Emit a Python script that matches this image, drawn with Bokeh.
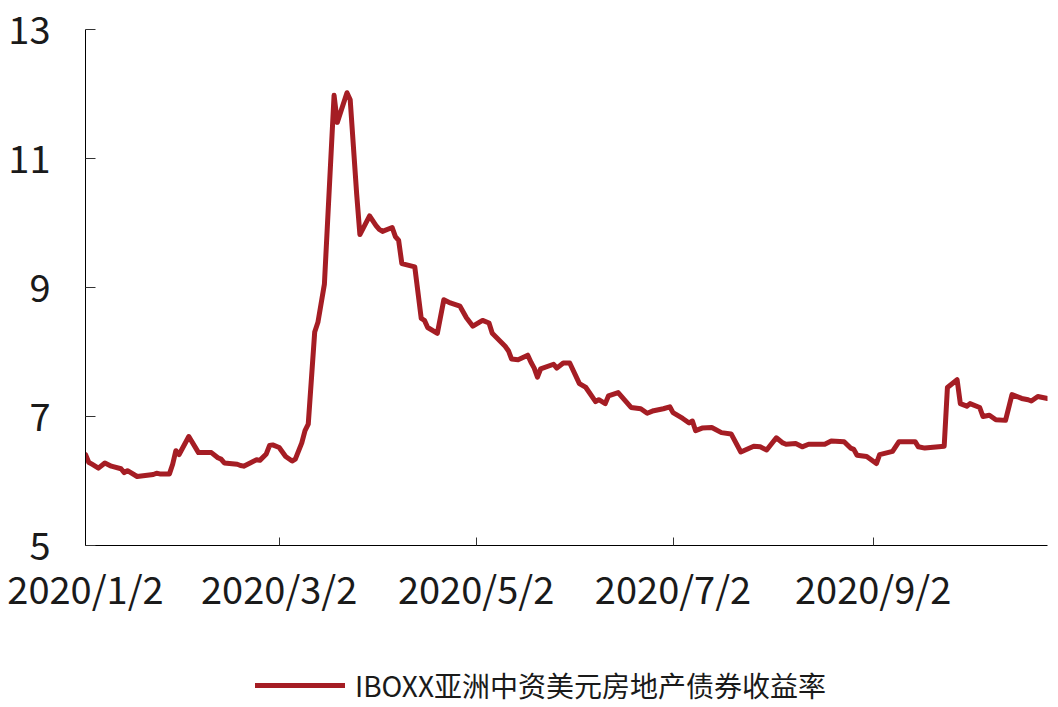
import pandas as pd
from datetime import datetime
from bokeh.plotting import figure
from bokeh.layouts import column
from bokeh.models import Range1d, FixedTicker, Legend, LegendItem, ColumnDataSource
from bokeh.embed import file_html
from bokeh.resources import INLINE

series_name = "IBOXX亚洲中资美元房地产债券收益率"

dates = [
    "2020-01-02", "2020-01-03", "2020-01-04", "2020-01-06", "2020-01-08", "2020-01-10",
    "2020-01-13", "2020-01-14", "2020-01-15", "2020-01-18", "2020-01-23", "2020-01-24",
    "2020-01-25", "2020-01-28", "2020-01-29", "2020-01-30", "2020-01-31", "2020-02-03",
    "2020-02-06", "2020-02-10", "2020-02-12", "2020-02-13", "2020-02-14", "2020-02-18",
    "2020-02-19", "2020-02-20", "2020-02-22", "2020-02-24", "2020-02-25", "2020-02-27",
    "2020-02-28", "2020-02-29", "2020-03-02", "2020-03-03", "2020-03-04", "2020-03-06",
    "2020-03-07", "2020-03-09", "2020-03-10", "2020-03-11", "2020-03-13", "2020-03-14",
    "2020-03-16", "2020-03-19", "2020-03-20", "2020-03-23", "2020-03-24", "2020-03-26",
    "2020-03-27", "2020-03-30", "2020-04-01", "2020-04-02", "2020-04-03", "2020-04-06",
    "2020-04-07", "2020-04-08", "2020-04-09", "2020-04-13", "2020-04-15", "2020-04-16",
    "2020-04-17", "2020-04-20", "2020-04-22", "2020-04-24", "2020-04-27", "2020-04-29",
    "2020-05-01", "2020-05-04", "2020-05-06", "2020-05-07", "2020-05-11", "2020-05-12",
    "2020-05-13", "2020-05-15", "2020-05-18", "2020-05-19", "2020-05-20", "2020-05-21",
    "2020-05-22", "2020-05-26", "2020-05-27", "2020-05-29", "2020-05-31", "2020-06-03",
    "2020-06-05", "2020-06-08", "2020-06-09", "2020-06-11", "2020-06-12", "2020-06-15",
    "2020-06-19", "2020-06-22", "2020-06-24", "2020-06-26", "2020-06-29", "2020-07-01",
    "2020-07-02", "2020-07-05", "2020-07-07", "2020-07-08", "2020-07-09", "2020-07-11",
    "2020-07-14", "2020-07-17", "2020-07-20", "2020-07-23", "2020-07-27", "2020-07-29",
    "2020-07-31", "2020-08-03", "2020-08-05", "2020-08-06", "2020-08-09", "2020-08-11",
    "2020-08-13", "2020-08-18", "2020-08-20", "2020-08-24", "2020-08-26", "2020-08-27",
    "2020-08-28", "2020-08-31", "2020-09-03", "2020-09-04", "2020-09-08", "2020-09-10",
    "2020-09-15", "2020-09-16", "2020-09-18", "2020-09-24", "2020-09-25", "2020-09-28",
    "2020-09-29", "2020-10-01", "2020-10-02", "2020-10-05", "2020-10-06", "2020-10-08",
    "2020-10-10", "2020-10-13", "2020-10-15", "2020-10-18", "2020-10-20", "2020-10-21",
    "2020-10-23", "2020-10-26",
]

yields = [
    6.41, 6.29, 6.26, 6.20, 6.28, 6.23,
    6.19, 6.13, 6.16, 6.07, 6.10, 6.12,
    6.11, 6.11, 6.26, 6.47, 6.41, 6.69,
    6.44, 6.44, 6.36, 6.34, 6.28, 6.26,
    6.24, 6.23, 6.28, 6.33, 6.32, 6.42,
    6.55, 6.56, 6.52, 6.45, 6.38, 6.31,
    6.34, 6.59, 6.78, 6.88, 8.31, 8.46,
    9.05, 11.98, 11.56, 12.02, 11.91, 10.45,
    9.82, 10.11, 9.96, 9.90, 9.87, 9.93,
    9.79, 9.73, 9.37, 9.32, 8.52, 8.49,
    8.38, 8.29, 8.81, 8.76, 8.71, 8.53,
    8.40, 8.49, 8.45, 8.29, 8.09, 8.02,
    7.89, 7.88, 7.95, 7.84, 7.75, 7.61,
    7.74, 7.81, 7.75, 7.83, 7.83, 7.51,
    7.45, 7.23, 7.26, 7.20, 7.32, 7.37,
    7.14, 7.12, 7.05, 7.09, 7.12, 7.15,
    7.06, 6.97, 6.90, 6.93, 6.78, 6.82,
    6.83, 6.75, 6.73, 6.45, 6.54, 6.53,
    6.48, 6.67, 6.59, 6.57, 6.58, 6.53,
    6.57, 6.57, 6.62, 6.61, 6.51, 6.49,
    6.40, 6.38, 6.27, 6.41, 6.46, 6.61,
    6.61, 6.53, 6.51, 6.54, 7.45, 7.57,
    7.20, 7.16, 7.20, 7.14, 7.00, 7.02,
    6.95, 6.94, 7.34, 7.28, 7.26, 7.24,
    7.31, 7.28,
]

x_tick_dates = ["2020-01-02", "2020-03-02", "2020-05-02", "2020-07-02", "2020-09-02"]
x_tick_labels = ["2020/1/2", "2020/3/2", "2020/5/2", "2020/7/2", "2020/9/2"]
y_ticks = [5, 7, 9, 11, 13]

FONT = "Noto Sans CJK SC"
LINE_COLOR = "#A51D24"
LINE_W = 5

source = ColumnDataSource(dict(date=pd.to_datetime(dates), value=yields))

W, H1, H2 = 1050, 625, 80
p = figure(
    width=W, height=H1,
    x_axis_type="datetime",
    x_range=Range1d(datetime(2020, 1, 2), datetime(2020, 10, 26)),
    y_range=Range1d(5, 13),
    output_backend="svg", toolbar_location=None,
    min_border_left=85, min_border_right=3, min_border_top=29, min_border_bottom=H1 - 545,
)
p.outline_line_color = None
p.xgrid.visible = False
p.ygrid.visible = False

r = p.line("date", "value", source=source, line_color=LINE_COLOR, line_width=LINE_W,
           line_join="round", line_cap="round")

# x axis
tick_ms = [pd.Timestamp(d).value / 1e6 for d in x_tick_dates]
xa = p.xaxis[0]
xa.ticker = FixedTicker(ticks=tick_ms)
xa.major_label_overrides = {t: lab for t, lab in zip(tick_ms, x_tick_labels)}
xa.minor_tick_line_color = None
xa.major_tick_in = 8
xa.major_tick_out = 0
xa.major_tick_line_color = "#333333"
xa.axis_line_color = "#000000"
xa.major_label_text_font = FONT
xa.major_label_text_font_size = "38px"
xa.major_label_text_color = "#1a1a1a"
xa.major_label_standoff = 14

# y axis
ya = p.yaxis[0]
ya.ticker = FixedTicker(ticks=y_ticks)
ya.minor_tick_line_color = None
ya.major_tick_in = 10
ya.major_tick_out = 0
ya.major_tick_line_color = "#333333"
ya.axis_line_color = "#000000"
ya.major_label_text_font = FONT
ya.major_label_text_font_size = "38px"
ya.major_label_text_color = "#1a1a1a"
ya.major_label_standoff = 35

# legend strip below the chart (its frame is aligned with the chart frame)
pl = figure(
    width=W, height=H2,
    x_range=Range1d(0, 1), y_range=Range1d(0, 1),
    x_axis_location=None, y_axis_location=None,
    output_backend="svg", toolbar_location=None,
    min_border_left=0, min_border_right=0, min_border_top=0, min_border_bottom=0,
)
pl.outline_line_color = None
pl.xgrid.visible = False
pl.ygrid.visible = False
# legend-only proxy of the series style (a single NaN point draws nothing)
rl = pl.line(x=[float("nan")], y=[float("nan")], line_color=LINE_COLOR,
             line_width=LINE_W, line_cap="round")

legend = Legend(
    items=[LegendItem(label=series_name, renderers=[rl])],
    location=(170, 0),
    orientation="horizontal",
    glyph_width=90, glyph_height=28, label_height=28,
    label_standoff=10, padding=0, margin=0, spacing=0,
    border_line_color=None, background_fill_alpha=0,
    label_text_font=FONT, label_text_font_size="28px", label_text_color="#1a1a1a",
)
pl.add_layout(legend)

layout = column(p, pl, spacing=0)
open("out.html", "w").write(file_html(layout, INLINE))
